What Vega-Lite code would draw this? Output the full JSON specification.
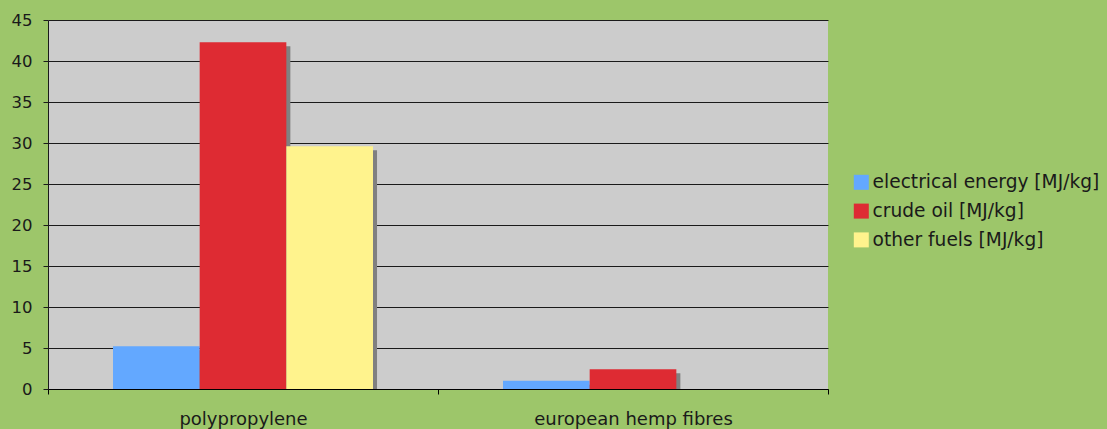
{
  "$schema": "https://vega.github.io/schema/vega-lite/v6.json",
  "width": 780,
  "height": 369,
  "autosize": {"type": "none"},
  "padding": {"left": 48, "top": 20, "right": 279, "bottom": 40},
  "background": "#9dc66a",
  "config": {
    "view": {"fill": "#cccccc", "stroke": null},
    "font": "DejaVu Sans"
  },
  "data": {
    "values": [
      {"material": "polypropylene", "type": "electrical energy [MJ/kg]", "value": 5.2},
      {"material": "polypropylene", "type": "crude oil [MJ/kg]", "value": 42.3},
      {"material": "polypropylene", "type": "other fuels [MJ/kg]", "value": 29.6},
      {"material": "european hemp fibres", "type": "electrical energy [MJ/kg]", "value": 1.0},
      {"material": "european hemp fibres", "type": "crude oil [MJ/kg]", "value": 2.4},
      {"material": "european hemp fibres", "type": "other fuels [MJ/kg]", "value": 0}
    ]
  },
  "encoding": {
    "x": {
      "field": "material", "type": "nominal", "sort": ["polypropylene", "european hemp fibres"],
      "scale": {"paddingInner": 0, "paddingOuter": 0},
      "axis": {
        "title": null, "labelAngle": 0, "tickBand": "extent", "domainColor": "#000000",
        "tickColor": "#000000", "tickSize": 5, "labelFontSize": 18, "labelColor": "#1a1a1a",
        "labelPadding": 16, "grid": false, "labelFont": "DejaVu Sans", "labelLimit": 0
      }
    },
    "y": {
      "field": "value", "type": "quantitative",
      "scale": {"domain": [0, 45], "nice": false},
      "axis": {
        "title": null, "values": [0, 5, 10, 15, 20, 25, 30, 35, 40, 45], "grid": true,
        "gridColor": "#1a1a1a", "gridOpacity": 1, "domainColor": "#1a1a1a", "tickColor": "#1a1a1a",
        "tickSize": 5, "labelFontSize": 16.5, "labelColor": "#1a1a1a", "labelPadding": 11,
        "labelFont": "DejaVu Sans"
      }
    }
  },
  "layer": [
    {
      "mark": {"type": "bar", "color": "#808080", "yOffset": 4, "clip": true},
      "encoding": {
        "xOffset": {
          "field": "type", "type": "nominal",
          "sort": ["electrical energy [MJ/kg]", "crude oil [MJ/kg]", "other fuels [MJ/kg]"],
          "scale": {"paddingInner": 0, "paddingOuter": 0.75, "align": 0.531}
        }
      }
    },
    {
      "mark": {"type": "bar"},
      "encoding": {
        "xOffset": {
          "field": "type", "type": "nominal",
          "sort": ["electrical energy [MJ/kg]", "crude oil [MJ/kg]", "other fuels [MJ/kg]"],
          "scale": {"paddingInner": 0, "paddingOuter": 0.75}
        },
        "color": {
          "field": "type", "type": "nominal",
          "sort": ["electrical energy [MJ/kg]", "crude oil [MJ/kg]", "other fuels [MJ/kg]"],
          "scale": {"range": ["#63a8ff", "#de2b33", "#fff38d"]},
          "legend": {
            "title": null, "orient": "none", "legendX": 804, "legendY": 153,
            "symbolType": "square", "symbolSize": 225, "symbolStrokeWidth": 0,
            "labelFontSize": 18.6, "labelColor": "#1a1a1a", "rowPadding": 9.8, "labelOffset": 2,
            "labelFont": "DejaVu Sans", "labelLimit": 0
          }
        }
      }
    }
  ],
  "resolve": {"scale": {"xOffset": "independent"}}
}
